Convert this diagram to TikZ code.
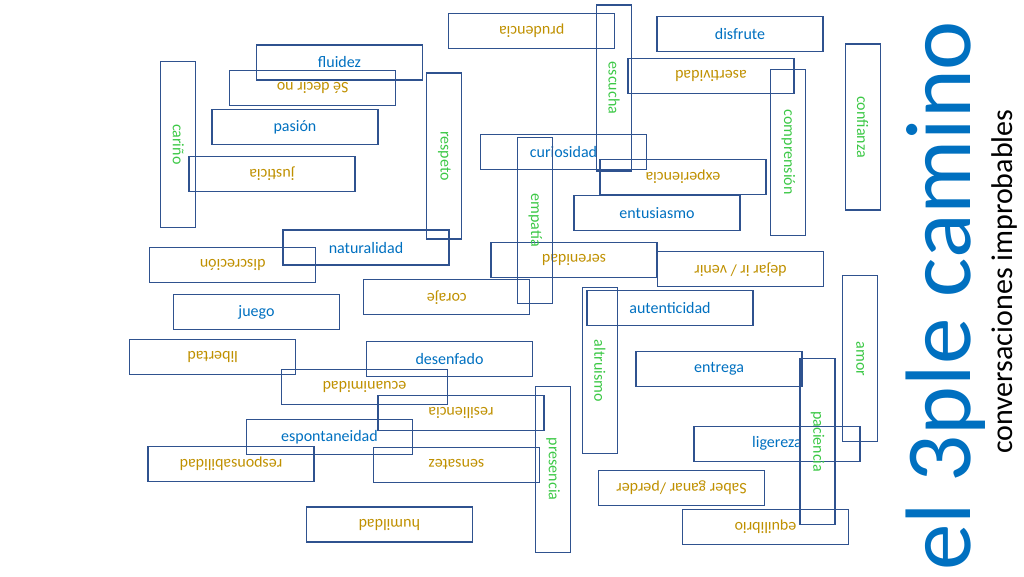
\documentclass[tikz,border=0pt]{standalone}
\usepackage{fontspec}
\setmainfont{Carlito}
\usepackage{tikz}

\definecolor{marco}{RGB}{47,82,143}
\definecolor{azul}{RGB}{0,112,192}
\definecolor{oro}{RGB}{191,144,0}
\definecolor{verde}{RGB}{60,200,70}

\begin{document}
\begin{tikzpicture}[x=1pt, y=-1pt,
    caja/.style={draw=marco, line width=1.2pt, minimum width=166pt, minimum height=35pt,
        inner sep=0pt, font=\fontsize{16}{19}\selectfont},
    derecha/.style={caja, text=azul},
    reves/.style={caja, text=oro, rotate=180},
    bajada/.style={caja, text=verde, rotate=-90}]
    \useasboundingbox (0,0) rectangle (1024,576);

    % Palabras derechas (azul)
    \foreach \n/\x/\y/\t in {fluidez/339.5/62.5/fluidez, pasion/295/126.8/pasión,
        naturalidad/366/247.5/naturalidad, juego/256.5/312/juego,
        desenfado/449.5/359/desenfado, espontaneidad/329.5/437/espontaneidad,
        curiosidad/563.5/152.3/curiosidad, entusiasmo/657/213/entusiasmo,
        disfrute/740/33.8/disfrute, autenticidad/670/308.3/autenticidad,
        entrega/719/368.8/entrega, ligereza/777/443.7/ligereza}{
        \node[derecha] (\n) at (\x,\y) {\t};
    }

    % Palabras del reves (oro)
    \foreach \n/\x/\y/\t in {decirno/312.7/87.8/{Sé decir no}, justicia/272/174/justicia,
        discrecion/232.7/265.2/discreción, prudencia/531.7/31/prudencia,
        asertividad/711/76/asertividad, experiencia/683/177/experiencia,
        serenidad/574/260/serenidad, dejar/740.5/269.3/{dejar ir / venir},
        coraje/446.8/297.3/coraje, libertad/212.7/356.7/libertad,
        ecuanimidad/364.5/387.2/ecuanimidad, resiliencia/461/413.3/resiliencia,
        responsabilidad/231/463.7/responsabilidad, sensatez/456.5/464.8/sensatez,
        humildad/389.3/524.5/humildad, saber/681.5/487.8/{Saber ganar /perder},
        equilibrio/765.5/527.2/equilibrio}{
        \node[reves] (\n) at (\x,\y) {\t};
    }

    % Palabras de arriba abajo (verde)
    \foreach \n/\x/\y/\t in {carino/178.2/144.3/cariño, respeto/444.3/156/respeto,
        escucha/614.2/88/escucha, empatia/535.3/220.3/empatía,
        comprension/788.3/152.3/comprensión, confianza/862.7/127/confianza,
        altruismo/599.8/370.8/altruismo, presencia/553.2/469.2/presencia,
        paciencia/817.5/441.8/paciencia, amor/860.3/358.8/amor}{
        \node[bajada] (\n) at (\x,\y) {\t};
    }

    % Titulo
    \node[rotate=90, anchor=base west, inner sep=0pt, text=azul,
        font=\fontsize{93}{100}\selectfont] (titulo) at (970,571) {el 3ple camino};
    \node[rotate=90, anchor=base west, inner sep=0pt,
        font=\fontsize{30}{36}\selectfont] (lema) at (1012,454) {conversaciones improbables};
\end{tikzpicture}
\end{document}
